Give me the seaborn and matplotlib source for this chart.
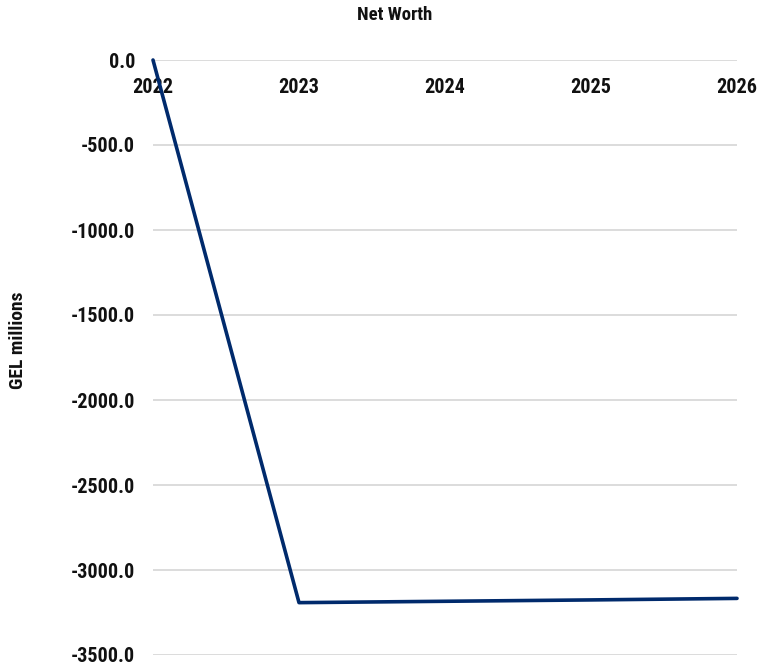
import matplotlib
matplotlib.use("Agg")
import matplotlib.pyplot as plt
import seaborn as sns
import pandas as pd

years = ["2022", "2023", "2024", "2025", "2026"]
net_worth = [0.0, -3192.0, -3184.0, -3176.0, -3167.0]
y_ticks = [0.0, -500.0, -1000.0, -1500.0, -2000.0, -2500.0, -3000.0, -3500.0]

sns.set_theme(style="white")
plt.rcParams["font.family"] = ["Roboto Condensed", "DejaVu Sans"]
plt.rcParams["font.weight"] = "bold"

df = pd.DataFrame({"year": years, "value": net_worth})
df["pos"] = range(len(years))

fig = plt.figure(figsize=(7.65, 6.68), dpi=100)
ax = fig.add_axes([153 / 765, 1 - 655 / 668, (737 - 153) / 765, (655 - 60) / 668])

for yv in y_ticks:
    ax.axhline(yv, color="#d9d9d9", lw=1.3, zorder=0)

sns.lineplot(data=df, x="pos", y="value", ax=ax, color="#002a6c", lw=2.6,
             zorder=3, clip_on=False)

ax.set_xlim(0, len(years) - 1)
ax.set_ylim(-3500, 0)
ax.set_xticks(range(len(years)))
ax.set_xticklabels(years)
ax.set_yticks(y_ticks)
ax.set_yticklabels([f"{v:.1f}" for v in y_ticks])
ax.tick_params(axis="x", top=True, labeltop=True, bottom=False, labelbottom=False,
               length=0, pad=-13, labelsize=14.5)
ax.tick_params(axis="y", length=0, pad=13, labelsize=14.5)
for lbl in ax.get_xticklabels() + ax.get_yticklabels():
    lbl.set_fontweight("bold")
    lbl.set_color("#111111")
for lbl in ax.get_xticklabels():
    lbl.set_verticalalignment("top")
for s in ax.spines.values():
    s.set_visible(False)
ax.set_xlabel("")
ax.set_ylabel("")

fig.text(395 / 765, 1 - 15 / 668, "Net Worth", ha="center", va="center",
         fontsize=13.5, fontweight="bold", color="#111111")
fig.text(18 / 765, 1 - 340 / 668, "GEL millions", ha="center", va="center",
         rotation=90, fontsize=14, fontweight="bold", color="#111111")

fig.savefig("out.png", dpi=100)
